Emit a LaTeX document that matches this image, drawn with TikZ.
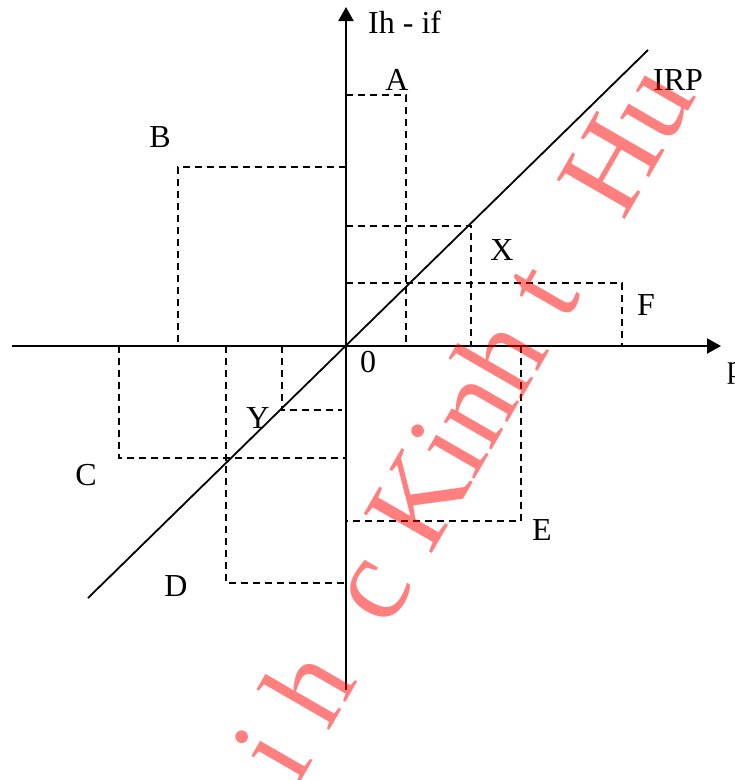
\documentclass[tikz,border=0pt]{standalone}
\usepackage{fontspec}
\setmainfont{Liberation Serif}
\usetikzlibrary{arrows.meta}
\tikzset{
  axis/.style={line width=2pt, -{Triangle[length=14pt,width=15pt]}},
  guide/.style={line width=1.9pt, dash pattern=on 7pt off 5pt},
  irp/.style={line width=1.8pt},
  lbl/.style={inner sep=0pt, anchor=base, font=\fontsize{32}{32}\selectfont},
  wmark/.style={inner sep=0pt, anchor=base west, text=red, text opacity=0.5, rotate=60,
                font=\fontsize{120}{120}\selectfont}
}
\begin{document}
\begin{tikzpicture}[x=1pt,y=-1pt]
\useasboundingbox (0,0) rectangle (735,780);
% axes
\coordinate (O) at (346,346);
\coordinate (xl) at (12,346);
\coordinate (xr) at (721,346);
\coordinate (yb) at (346,690);
\coordinate (yt) at (346,7);
\draw[axis] (xl) -- (xr);
\draw[axis] (yb) -- (yt);
% IRP line
\coordinate (irpL) at (88,598);
\coordinate (irpR) at (648,50);
\draw[irp] (irpL) -- (irpR);
% guides
\coordinate (a1) at (346,95); \coordinate (a2) at (406,95); \coordinate (a3) at (406,346);
\coordinate (b1) at (346,167); \coordinate (b2) at (178,167); \coordinate (b3) at (178,346);
\coordinate (x1) at (346,226); \coordinate (x2) at (471,226); \coordinate (x3) at (471,346);
\coordinate (f1) at (346,283); \coordinate (f2) at (622,283); \coordinate (f3) at (622,346);
\coordinate (c1) at (119,346); \coordinate (c2) at (119,458); \coordinate (c3) at (346,458);
\coordinate (d1) at (226,346); \coordinate (d2) at (226,583); \coordinate (d3) at (346,583);
\coordinate (y1) at (282,346); \coordinate (y2) at (282,410); \coordinate (y3) at (342,410);
\coordinate (e1) at (521,346); \coordinate (e2) at (521,521); \coordinate (e3) at (346,521);
\draw[guide] (a1) -- (a2) -- (a3);
\draw[guide] (b1) -- (b2) -- (b3);
\draw[guide] (x1) -- (x2) -- (x3);
\draw[guide] (f1) -- (f2) -- (f3);
\draw[guide] (c1) -- (c2) -- (c3);
\draw[guide] (d1) -- (d2) -- (d3);
\draw[guide] (y1) -- (y2) -- (y3);
\draw[guide] (e1) -- (e2) -- (e3);
% labels
\node[lbl, anchor=base west] (lih) at (368,33) {Ih - if};
\node[lbl] (lA) at (397,90) {A};
\node[lbl] (lB) at (160,147) {B};
\node[lbl] (lX) at (502,260) {X};
\node[lbl] (lF) at (646,315) {F};
\node[lbl, anchor=base west] (lp) at (727,377) {p};
\node[lbl] (lirp) at (678,90) {IRP};
\node[lbl] (l0) at (368,372) {0};
\node[lbl] (lY) at (258,428) {Y};
\node[lbl] (lC) at (86,485) {C};
\node[lbl] (lD) at (176,596) {D};
\node[lbl, anchor=base west] (lE) at (532,540) {E};
% watermark
\node[wmark] (wm) at (297,788) {i h\phantom{ọ}c Kinh t\phantom{ế} Hu};
\end{tikzpicture}
\end{document}
